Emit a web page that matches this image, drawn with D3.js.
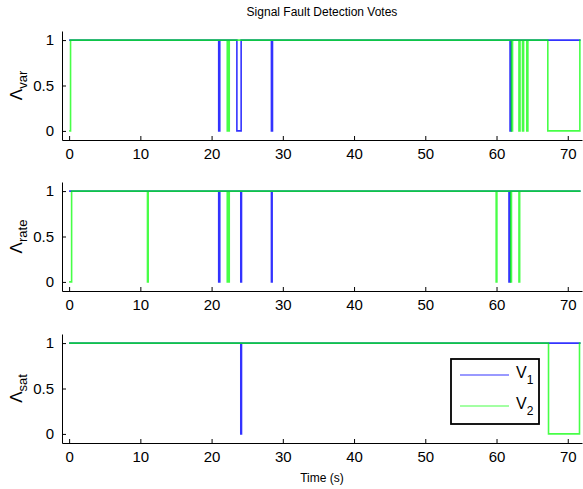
<!DOCTYPE html>
<html>
<head>
<meta charset="utf-8">
<script src="https://cdn.jsdelivr.net/npm/d3@7"></script>
<style>
  body { margin: 0; background: #fff; }
  svg { display: block; font-family: "Liberation Sans", Arial, sans-serif; }
</style>
</head>
<body>
<svg width="583" height="489"></svg>
<script>
// tick labels
const timeTicks = [0, 10, 20, 30, 40, 50, 60, 70];
const voteTicks = [0, 0.5, 1];

// panel subscripts
const panelNames = ["var", "rate", "sat"];
const seriesNames = ["1", "2"];

// step series: [time, vote]
const varV1 = [[0, 1], [21.0, 0], [21.15, 1], [23.55, 0], [24.15, 1], [28.4, 0], [28.55, 1],
  [61.9, 0], [62.05, 1], [71.8, 1]];
const varV2 = [[0, 0], [0.2, 1], [22.2, 0], [22.32, 1], [22.35, 0], [22.48, 1], [62.1, 0], [62.25, 1],
  [63.15, 0], [63.3, 1], [63.65, 0], [63.8, 1], [64.25, 0], [64.4, 1], [67.2, 0], [71.7, 1], [71.8, 1]];

const rateV1 = [[0, 1], [21.0, 0], [21.15, 1], [24.1, 0], [24.2, 1], [28.4, 0], [28.5, 1],
  [61.75, 0], [61.9, 1], [71.8, 1]];
const rateV2 = [[0, 0], [0.35, 1], [11.0, 0], [11.1, 1], [22.2, 0], [22.32, 1], [22.35, 0], [22.48, 1],
  [59.95, 0], [60.05, 1], [62.0, 0], [62.1, 1], [63.15, 0], [63.25, 1], [71.8, 1]];

const satV1 = [[0, 1], [24.1, 0], [24.2, 1], [71.8, 1]];
const satV2 = [[0, 1], [67.3, 0], [71.65, 1], [71.8, 1]];

const panelSeries = [[varV1, varV2], [rateV1, rateV2], [satV1, satV2]];

const colors = ["#0000ff", "#00ff00"];
const opacities = [0.8, 0.72];
const panelTops = [31, 182, 334];
const panelHeight = 109;
const left = 62, right = 582;

const svg = d3.select("svg");

const x = d3.scaleLinear().domain([-1, 72]).range([left, right]);

// title
svg.append("text")
  .attr("x", (left + right) / 2).attr("y", 16)
  .attr("text-anchor", "middle")
  .attr("font-size", 12)
  .text("Signal Fault Detection Votes");

panelTops.forEach((top, i) => {
  const y = d3.scaleLinear().domain([-0.1, 1.1]).range([top + panelHeight, top]);
  const g = svg.append("g");

  // x axis, ticks pointing inward
  const xAxis = d3.axisBottom(x).tickValues(timeTicks).tickSizeInner(-4).tickSizeOuter(0).tickPadding(8);
  const gx = g.append("g")
    .attr("transform", "translate(0," + (top + panelHeight) + ")")
    .call(xAxis);
  gx.selectAll("text").attr("font-size", 15).attr("fill", "#000").attr("font-family", "Liberation Sans, Arial");
  gx.selectAll("line, path").attr("stroke", "#000");

  // y axis
  const yAxis = d3.axisLeft(y).tickValues(voteTicks).tickFormat(d3.format("")).tickSizeInner(-4).tickSizeOuter(0).tickPadding(8);
  const gy = g.append("g")
    .attr("transform", "translate(" + left + ",0)")
    .call(yAxis);
  gy.selectAll("text").attr("font-size", 15).attr("fill", "#000").attr("font-family", "Liberation Sans, Arial");
  gy.selectAll("line, path").attr("stroke", "#000");

  // series lines
  const line = d3.line()
    .x((d) => x(d[0]))
    .y((d) => y(d[1]))
    .curve(d3.curveStepAfter);

  panelSeries[i].forEach((series, k) => {
    g.append("path")
      .datum(series)
      .attr("fill", "none")
      .attr("stroke", colors[k])
      .attr("stroke-width", 1.6)
      .attr("stroke-opacity", opacities[k])
      .attr("d", line);
  });

  // y label: Lambda with subscript
  const cy = top + panelHeight / 2;
  const lab = g.append("text")
    .attr("transform", "translate(22," + cy + ") rotate(-90)")
    .attr("text-anchor", "middle")
    .attr("font-size", 17);
  lab.append("tspan").text("\u039B");
  lab.append("tspan").attr("font-size", 13).attr("dy", 5).text(panelNames[i]);
});

// x label
svg.append("text")
  .attr("x", (left + right) / 2).attr("y", 482)
  .attr("text-anchor", "middle")
  .attr("font-size", 12)
  .text("Time (s)");

// legend in bottom panel
const legend = svg.append("g");
legend.append("rect")
  .attr("x", 451).attr("y", 359)
  .attr("width", 88).attr("height", 65)
  .attr("fill", "#fff")
  .attr("stroke", "#000")
  .attr("stroke-width", 1.8);

seriesNames.forEach((name, k) => {
  const ly = 375 + k * 31;
  legend.append("line")
    .attr("x1", 460).attr("x2", 509)
    .attr("y1", ly).attr("y2", ly)
    .attr("stroke", colors[k])
    .attr("stroke-opacity", opacities[k])
    .attr("stroke-width", 1.2);
  const t = legend.append("text")
    .attr("x", 516).attr("y", ly + 3)
    .attr("font-size", 16);
  t.append("tspan").text("V");
  t.append("tspan").attr("font-size", 12).attr("dy", 6).text(name);
});
</script>
</body>
</html>
